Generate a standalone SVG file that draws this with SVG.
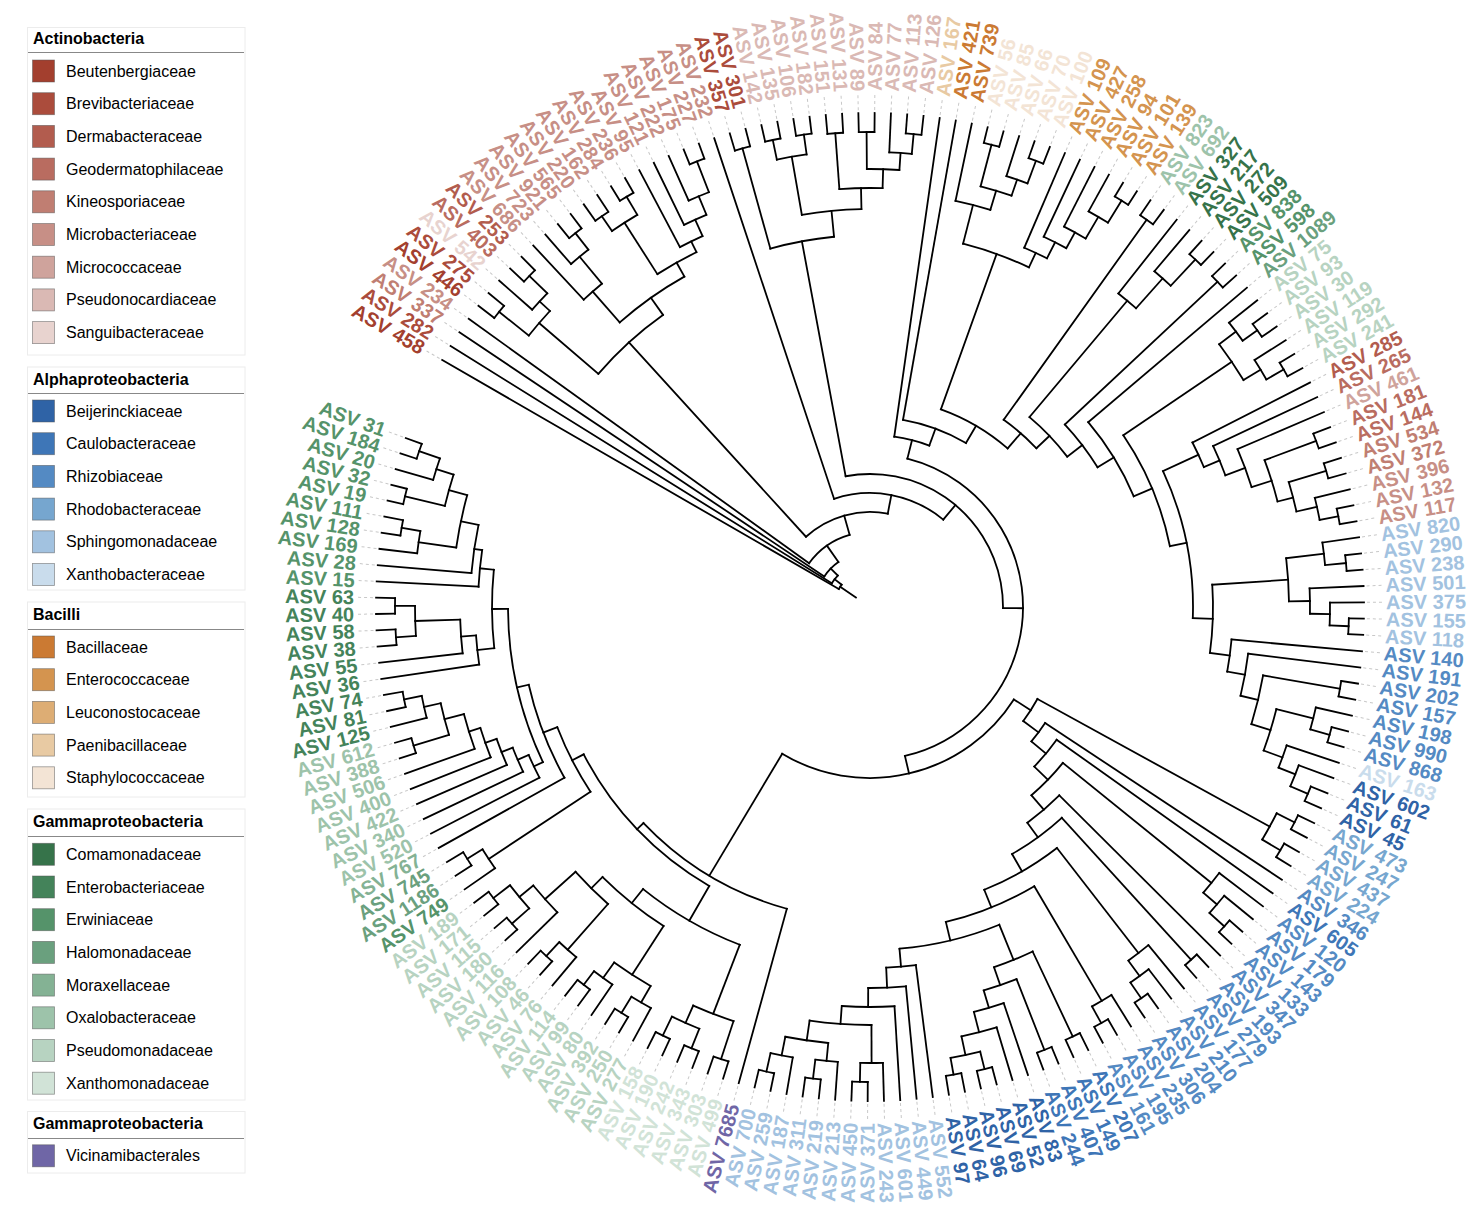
<svg xmlns="http://www.w3.org/2000/svg" width="1478" height="1212" viewBox="0 0 1478 1212">
<style>
.t text{font:bold 20px "Liberation Sans",Arial,sans-serif;dominant-baseline:central}
.L{text-anchor:end}
.lg text{font:16px "Liberation Sans",Arial,sans-serif}
.lg .h{font-weight:bold}
.lg rect.s{stroke:#555;stroke-opacity:.6;stroke-width:.8}
.a1{fill:#A33F2E}.a2{fill:#AB4C3C}.a3{fill:#B25C4E}.a4{fill:#B96C60}.a5{fill:#C07E72}.a6{fill:#C78F86}.a7{fill:#CFA39C}.a8{fill:#DAB9B4}.a9{fill:#E8D3CF}
.b1{fill:#2F63A6}.b2{fill:#3E76B7}.b3{fill:#548AC3}.b4{fill:#76A6CF}.b5{fill:#A2C2E0}.b6{fill:#C9DCEC}
.c1{fill:#CB7A33}.c2{fill:#D4944F}.c3{fill:#DDAD74}.c4{fill:#E8CAA3}.c5{fill:#F3E4D5}
.g1{fill:#36734A}.g2{fill:#44835A}.g3{fill:#55936A}.g4{fill:#6AA07E}.g5{fill:#84B294}.g6{fill:#9DC3AA}.g7{fill:#B7D3C1}.g8{fill:#D1E3D7}.v{fill:#6F66A6}
</style>
<rect width="1478" height="1212" fill="#fff"/>
<g class="lg">
<g id="legend-actinobacteria">
<rect x="27.5" y="27.5" width="217.5" height="327.5" fill="#fff" stroke="#ececec"/>
<text class="h" x="33" y="44">Actinobacteria</text><path d="M28 52.5H244" stroke="#888"/>
<rect class="s a1" x="32.5" y="60" width="22" height="22"/><text x="66" y="76.5">Beutenbergiaceae</text>
<rect class="s a2" x="32.5" y="92.7" width="22" height="22"/><text x="66" y="109.2">Brevibacteriaceae</text>
<rect class="s a3" x="32.5" y="125.4" width="22" height="22"/><text x="66" y="141.9">Dermabacteraceae</text>
<rect class="s a4" x="32.5" y="158.1" width="22" height="22"/><text x="66" y="174.6">Geodermatophilaceae</text>
<rect class="s a5" x="32.5" y="190.8" width="22" height="22"/><text x="66" y="207.3">Kineosporiaceae</text>
<rect class="s a6" x="32.5" y="223.5" width="22" height="22"/><text x="66" y="240">Microbacteriaceae</text>
<rect class="s a7" x="32.5" y="256.2" width="22" height="22"/><text x="66" y="272.7">Micrococcaceae</text>
<rect class="s a8" x="32.5" y="288.9" width="22" height="22"/><text x="66" y="305.4">Pseudonocardiaceae</text>
<rect class="s a9" x="32.5" y="321.6" width="22" height="22"/><text x="66" y="338.1">Sanguibacteraceae</text>
</g>
<g id="legend-alphaproteobacteria">
<rect x="27.5" y="367" width="217.5" height="223" fill="#fff" stroke="#ececec"/>
<text class="h" x="33" y="384.5">Alphaproteobacteria</text><path d="M28 393.5H244" stroke="#888"/>
<rect class="s b1" x="32.5" y="400" width="22" height="22"/><text x="66" y="416.5">Beijerinckiaceae</text>
<rect class="s b2" x="32.5" y="432.7" width="22" height="22"/><text x="66" y="449.2">Caulobacteraceae</text>
<rect class="s b3" x="32.5" y="465.4" width="22" height="22"/><text x="66" y="481.9">Rhizobiaceae</text>
<rect class="s b4" x="32.5" y="498.1" width="22" height="22"/><text x="66" y="514.6">Rhodobacteraceae</text>
<rect class="s b5" x="32.5" y="530.8" width="22" height="22"/><text x="66" y="547.3">Sphingomonadaceae</text>
<rect class="s b6" x="32.5" y="563.5" width="22" height="22"/><text x="66" y="580">Xanthobacteraceae</text>
</g>
<g id="legend-bacilli">
<rect x="27.5" y="602" width="217.5" height="195" fill="#fff" stroke="#ececec"/>
<text class="h" x="33" y="620">Bacilli</text><path d="M28 629.5H244" stroke="#888"/>
<rect class="s c1" x="32.5" y="636" width="22" height="22"/><text x="66" y="652.5">Bacillaceae</text>
<rect class="s c2" x="32.5" y="668.7" width="22" height="22"/><text x="66" y="685.2">Enterococcaceae</text>
<rect class="s c3" x="32.5" y="701.4" width="22" height="22"/><text x="66" y="717.9">Leuconostocaceae</text>
<rect class="s c4" x="32.5" y="734.1" width="22" height="22"/><text x="66" y="750.6">Paenibacillaceae</text>
<rect class="s c5" x="32.5" y="766.8" width="22" height="22"/><text x="66" y="783.3">Staphylococcaceae</text>
</g>
<g id="legend-gammaproteobacteria">
<rect x="27.5" y="809" width="217.5" height="291" fill="#fff" stroke="#ececec"/>
<text class="h" x="33" y="826.5">Gammaproteobacteria</text><path d="M28 836.5H244" stroke="#888"/>
<rect class="s g1" x="32.5" y="843.3" width="22" height="22"/><text x="66" y="859.8">Comamonadaceae</text>
<rect class="s g2" x="32.5" y="876" width="22" height="22"/><text x="66" y="892.5">Enterobacteriaceae</text>
<rect class="s g3" x="32.5" y="908.7" width="22" height="22"/><text x="66" y="925.2">Erwiniaceae</text>
<rect class="s g4" x="32.5" y="941.4" width="22" height="22"/><text x="66" y="957.9">Halomonadaceae</text>
<rect class="s g5" x="32.5" y="974.1" width="22" height="22"/><text x="66" y="990.6">Moraxellaceae</text>
<rect class="s g6" x="32.5" y="1006.8" width="22" height="22"/><text x="66" y="1023.3">Oxalobacteraceae</text>
<rect class="s g7" x="32.5" y="1039.5" width="22" height="22"/><text x="66" y="1056">Pseudomonadaceae</text>
<rect class="s g8" x="32.5" y="1072.2" width="22" height="22"/><text x="66" y="1088.7">Xanthomonadaceae</text>
</g>
<g id="legend-gammaproteobacteria-2">
<rect x="27.5" y="1111.5" width="217.5" height="61.5" fill="#fff" stroke="#ececec"/>
<text class="h" x="33" y="1129">Gammaproteobacteria</text><path d="M28 1138.5H244" stroke="#888"/>
<rect class="s v" x="32.5" y="1144.8" width="22" height="22"/><text x="66" y="1161.3">Vicinamibacterales</text>
</g>
</g>
<g id="connectors" transform="translate(870 607)" fill="none" stroke="#000" stroke-width="1.8" stroke-linecap="square">
<path d="M17 0H36" transform="rotate(214.07)"/>
<circle r="36" pathLength="360" stroke-dasharray="8.13 400" transform="rotate(210)"/>
<path d="M36 0H494" transform="rotate(210)"/><path d="M36 0H45" transform="rotate(218.13)"/>
<circle r="45" pathLength="360" stroke-dasharray="12.48 400" transform="rotate(211.89)"/>
<path d="M45 0H494" transform="rotate(211.89)"/><path d="M45 0H55" transform="rotate(224.37)"/>
<circle r="55" pathLength="360" stroke-dasharray="21.17 400" transform="rotate(213.78)"/>
<path d="M55 0H494" transform="rotate(213.78)"/><path d="M55 0H75" transform="rotate(234.95)"/>
<circle r="75" pathLength="360" stroke-dasharray="38.55 400" transform="rotate(215.68)"/>
<path d="M75 0H494" transform="rotate(215.68)"/><path d="M75 0H95" transform="rotate(254.23)"/>
<circle r="95" pathLength="360" stroke-dasharray="53.13 400" transform="rotate(227.66)"/>
<path d="M95 0H358" transform="rotate(227.66)"/><path d="M95 0H114" transform="rotate(280.79)"/>
<circle r="114" pathLength="360" stroke-dasharray="58.34 400" transform="rotate(251.62)"/>
<path d="M114 0H494" transform="rotate(251.62)"/><path d="M114 0H133" transform="rotate(309.96)"/>
<circle r="133" pathLength="360" stroke-dasharray="101.02 400" transform="rotate(259.45)"/>
<path d="M133 0H372" transform="rotate(259.45)"/><path d="M133 0H153" transform="rotate(360.47)"/>
<circle r="153" pathLength="360" stroke-dasharray="152.66 400" transform="rotate(284.14)"/>
<path d="M153 0H172" transform="rotate(284.14)"/><path d="M153 0H171" transform="rotate(436.8)"/>
<circle r="358" pathLength="360" stroke-dasharray="14.04 400" transform="rotate(220.64)"/>
<path d="M358 0H436" transform="rotate(220.64)"/><path d="M358 0H379" transform="rotate(234.68)"/>
<circle r="436" pathLength="360" stroke-dasharray="4.26 400" transform="rotate(218.51)"/>
<path d="M436 0H474" transform="rotate(218.51)"/><path d="M436 0H450" transform="rotate(222.77)"/>
<circle r="474" pathLength="360" stroke-dasharray="1.89 400" transform="rotate(217.57)"/>
<path d="M474 0H494" transform="rotate(217.57)"/><path d="M474 0H494" transform="rotate(219.46)"/>
<circle r="450" pathLength="360" stroke-dasharray="2.84 400" transform="rotate(221.35)"/>
<path d="M450 0H494" transform="rotate(221.35)"/><path d="M450 0H475" transform="rotate(224.19)"/>
<circle r="475" pathLength="360" stroke-dasharray="1.9 400" transform="rotate(223.24)"/>
<path d="M475 0H494" transform="rotate(223.24)"/><path d="M475 0H494" transform="rotate(225.14)"/>
<circle r="379" pathLength="360" stroke-dasharray="12 400" transform="rotate(228.68)"/>
<path d="M379 0H420" transform="rotate(228.68)"/><path d="M379 0H395" transform="rotate(240.68)"/>
<circle r="420" pathLength="360" stroke-dasharray="3.31 400" transform="rotate(227.03)"/>
<path d="M420 0H494" transform="rotate(227.03)"/><path d="M420 0H455" transform="rotate(230.34)"/>
<circle r="455" pathLength="360" stroke-dasharray="2.84 400" transform="rotate(228.92)"/>
<path d="M455 0H494" transform="rotate(228.92)"/><path d="M455 0H476" transform="rotate(231.76)"/>
<circle r="476" pathLength="360" stroke-dasharray="1.89 400" transform="rotate(230.81)"/>
<path d="M476 0H494" transform="rotate(230.81)"/><path d="M476 0H494" transform="rotate(232.7)"/>
<circle r="395" pathLength="360" stroke-dasharray="6.51 400" transform="rotate(237.43)"/>
<path d="M395 0H456" transform="rotate(237.43)"/><path d="M395 0H407" transform="rotate(243.94)"/>
<circle r="456" pathLength="360" stroke-dasharray="3.78 400" transform="rotate(235.54)"/>
<path d="M456 0H474" transform="rotate(235.54)"/><path d="M456 0H477" transform="rotate(239.32)"/>
<circle r="474" pathLength="360" stroke-dasharray="1.9 400" transform="rotate(234.59)"/>
<path d="M474 0H494" transform="rotate(234.59)"/><path d="M474 0H494" transform="rotate(236.49)"/>
<circle r="477" pathLength="360" stroke-dasharray="1.89 400" transform="rotate(238.38)"/>
<path d="M477 0H494" transform="rotate(238.38)"/><path d="M477 0H494" transform="rotate(240.27)"/>
<circle r="407" pathLength="360" stroke-dasharray="3.55 400" transform="rotate(242.16)"/>
<path d="M407 0H494" transform="rotate(242.16)"/><path d="M407 0H425" transform="rotate(245.71)"/>
<circle r="425" pathLength="360" stroke-dasharray="3.31 400" transform="rotate(244.05)"/>
<path d="M425 0H494" transform="rotate(244.05)"/><path d="M425 0H445" transform="rotate(247.36)"/>
<circle r="445" pathLength="360" stroke-dasharray="2.83 400" transform="rotate(245.95)"/>
<path d="M445 0H494" transform="rotate(245.95)"/><path d="M445 0H478" transform="rotate(248.78)"/>
<circle r="478" pathLength="360" stroke-dasharray="1.89 400" transform="rotate(247.84)"/>
<path d="M478 0H494" transform="rotate(247.84)"/><path d="M478 0H494" transform="rotate(249.73)"/>
<circle r="372" pathLength="360" stroke-dasharray="9.99 400" transform="rotate(254.46)"/>
<path d="M372 0H476" transform="rotate(254.46)"/><path d="M372 0H398" transform="rotate(264.45)"/>
<circle r="476" pathLength="360" stroke-dasharray="1.9 400" transform="rotate(253.51)"/>
<path d="M476 0H494" transform="rotate(253.51)"/><path d="M476 0H494" transform="rotate(255.41)"/>
<circle r="398" pathLength="360" stroke-dasharray="8.63 400" transform="rotate(260.14)"/>
<path d="M398 0H457" transform="rotate(260.14)"/><path d="M398 0H419" transform="rotate(268.77)"/>
<circle r="457" pathLength="360" stroke-dasharray="3.79 400" transform="rotate(258.24)"/>
<path d="M457 0H477" transform="rotate(258.24)"/><path d="M457 0H477" transform="rotate(262.03)"/>
<circle r="477" pathLength="360" stroke-dasharray="1.89 400" transform="rotate(257.3)"/>
<path d="M477 0H494" transform="rotate(257.3)"/><path d="M477 0H494" transform="rotate(259.19)"/>
<circle r="477" pathLength="360" stroke-dasharray="1.89 400" transform="rotate(261.08)"/>
<path d="M477 0H494" transform="rotate(261.08)"/><path d="M477 0H494" transform="rotate(262.97)"/>
<circle r="419" pathLength="360" stroke-dasharray="5.91 400" transform="rotate(265.81)"/>
<path d="M419 0H475" transform="rotate(265.81)"/><path d="M419 0H438" transform="rotate(271.72)"/>
<circle r="475" pathLength="360" stroke-dasharray="1.9 400" transform="rotate(264.86)"/>
<path d="M475 0H494" transform="rotate(264.86)"/><path d="M475 0H494" transform="rotate(266.76)"/>
<circle r="438" pathLength="360" stroke-dasharray="4.26 400" transform="rotate(269.59)"/>
<path d="M438 0H475" transform="rotate(269.59)"/><path d="M438 0H455" transform="rotate(273.85)"/>
<circle r="475" pathLength="360" stroke-dasharray="1.89 400" transform="rotate(268.65)"/>
<path d="M475 0H494" transform="rotate(268.65)"/><path d="M475 0H494" transform="rotate(270.54)"/>
<circle r="455" pathLength="360" stroke-dasharray="2.84 400" transform="rotate(272.43)"/>
<path d="M455 0H494" transform="rotate(272.43)"/><path d="M455 0H475" transform="rotate(275.27)"/>
<circle r="475" pathLength="360" stroke-dasharray="1.9 400" transform="rotate(274.32)"/>
<path d="M475 0H494" transform="rotate(274.32)"/><path d="M475 0H494" transform="rotate(276.22)"/>
<circle r="172" pathLength="360" stroke-dasharray="12.06 400" transform="rotate(278.11)"/>
<path d="M172 0H494" transform="rotate(278.11)"/><path d="M172 0H190" transform="rotate(290.17)"/>
<circle r="190" pathLength="360" stroke-dasharray="20.34 400" transform="rotate(280)"/>
<path d="M190 0H494" transform="rotate(280)"/><path d="M190 0H210" transform="rotate(300.34)"/>
<circle r="210" pathLength="360" stroke-dasharray="21.22 400" transform="rotate(289.73)"/>
<path d="M210 0H375" transform="rotate(289.73)"/><path d="M210 0H230" transform="rotate(310.95)"/>
<circle r="375" pathLength="360" stroke-dasharray="10.71 400" transform="rotate(284.37)"/>
<path d="M375 0H415" transform="rotate(284.37)"/><path d="M375 0H391" transform="rotate(295.08)"/>
<circle r="415" pathLength="360" stroke-dasharray="4.97 400" transform="rotate(281.89)"/>
<path d="M415 0H494" transform="rotate(281.89)"/><path d="M415 0H435" transform="rotate(286.86)"/>
<circle r="435" pathLength="360" stroke-dasharray="4.26 400" transform="rotate(284.73)"/>
<path d="M435 0H478" transform="rotate(284.73)"/><path d="M435 0H452" transform="rotate(288.99)"/>
<circle r="478" pathLength="360" stroke-dasharray="1.9 400" transform="rotate(283.78)"/>
<path d="M478 0H494" transform="rotate(283.78)"/><path d="M478 0H494" transform="rotate(285.68)"/>
<circle r="452" pathLength="360" stroke-dasharray="2.83 400" transform="rotate(287.57)"/>
<path d="M452 0H494" transform="rotate(287.57)"/><path d="M452 0H476" transform="rotate(290.4)"/>
<circle r="476" pathLength="360" stroke-dasharray="1.89 400" transform="rotate(289.46)"/>
<path d="M476 0H494" transform="rotate(289.46)"/><path d="M476 0H494" transform="rotate(291.35)"/>
<circle r="391" pathLength="360" stroke-dasharray="3.67 400" transform="rotate(293.24)"/>
<path d="M391 0H494" transform="rotate(293.24)"/><path d="M391 0H409" transform="rotate(296.91)"/>
<circle r="409" pathLength="360" stroke-dasharray="3.54 400" transform="rotate(295.14)"/>
<path d="M409 0H494" transform="rotate(295.14)"/><path d="M409 0H427" transform="rotate(298.68)"/>
<circle r="427" pathLength="360" stroke-dasharray="3.31 400" transform="rotate(297.03)"/>
<path d="M427 0H494" transform="rotate(297.03)"/><path d="M427 0H452" transform="rotate(300.34)"/>
<circle r="452" pathLength="360" stroke-dasharray="2.84 400" transform="rotate(298.92)"/>
<path d="M452 0H494" transform="rotate(298.92)"/><path d="M452 0H478" transform="rotate(301.76)"/>
<circle r="478" pathLength="360" stroke-dasharray="1.89 400" transform="rotate(300.81)"/>
<path d="M478 0H494" transform="rotate(300.81)"/><path d="M478 0H494" transform="rotate(302.7)"/>
<circle r="230" pathLength="360" stroke-dasharray="10.82 400" transform="rotate(305.54)"/>
<path d="M230 0H476" transform="rotate(305.54)"/><path d="M230 0H248" transform="rotate(316.36)"/>
<circle r="476" pathLength="360" stroke-dasharray="1.9 400" transform="rotate(304.59)"/>
<path d="M476 0H494" transform="rotate(304.59)"/><path d="M476 0H494" transform="rotate(306.49)"/>
<circle r="248" pathLength="360" stroke-dasharray="12.65 400" transform="rotate(310.03)"/>
<path d="M248 0H400" transform="rotate(310.03)"/><path d="M248 0H267" transform="rotate(322.68)"/>
<circle r="400" pathLength="360" stroke-dasharray="3.31 400" transform="rotate(308.38)"/>
<path d="M400 0H494" transform="rotate(308.38)"/><path d="M400 0H440" transform="rotate(311.69)"/>
<circle r="440" pathLength="360" stroke-dasharray="2.84 400" transform="rotate(310.27)"/>
<path d="M440 0H494" transform="rotate(310.27)"/><path d="M440 0H476" transform="rotate(313.11)"/>
<circle r="476" pathLength="360" stroke-dasharray="1.89 400" transform="rotate(312.16)"/>
<path d="M476 0H494" transform="rotate(312.16)"/><path d="M476 0H494" transform="rotate(314.05)"/>
<circle r="267" pathLength="360" stroke-dasharray="11.58 400" transform="rotate(316.89)"/>
<path d="M267 0H476" transform="rotate(316.89)"/><path d="M267 0H286" transform="rotate(328.47)"/>
<circle r="476" pathLength="360" stroke-dasharray="1.89 400" transform="rotate(315.95)"/>
<path d="M476 0H494" transform="rotate(315.95)"/><path d="M476 0H494" transform="rotate(317.84)"/>
<circle r="286" pathLength="360" stroke-dasharray="17.49 400" transform="rotate(319.73)"/>
<path d="M286 0H494" transform="rotate(319.73)"/><path d="M286 0H306" transform="rotate(337.22)"/>
<circle r="306" pathLength="360" stroke-dasharray="22.67 400" transform="rotate(325.88)"/>
<path d="M306 0H437" transform="rotate(325.88)"/><path d="M306 0H323" transform="rotate(348.55)"/>
<circle r="437" pathLength="360" stroke-dasharray="5.68 400" transform="rotate(323.04)"/>
<path d="M437 0H458" transform="rotate(323.04)"/><path d="M437 0H457" transform="rotate(328.72)"/>
<circle r="458" pathLength="360" stroke-dasharray="2.84 400" transform="rotate(321.62)"/>
<path d="M458 0H494" transform="rotate(321.62)"/><path d="M458 0H476" transform="rotate(324.46)"/>
<circle r="476" pathLength="360" stroke-dasharray="1.9 400" transform="rotate(323.51)"/>
<path d="M476 0H494" transform="rotate(323.51)"/><path d="M476 0H494" transform="rotate(325.41)"/>
<circle r="457" pathLength="360" stroke-dasharray="2.84 400" transform="rotate(327.3)"/>
<path d="M457 0H494" transform="rotate(327.3)"/><path d="M457 0H477" transform="rotate(330.14)"/>
<circle r="477" pathLength="360" stroke-dasharray="1.89 400" transform="rotate(329.19)"/>
<path d="M477 0H494" transform="rotate(329.19)"/><path d="M477 0H494" transform="rotate(331.08)"/>
<circle r="323" pathLength="360" stroke-dasharray="26.86 400" transform="rotate(335.12)"/>
<path d="M323 0H362" transform="rotate(335.12)"/><path d="M323 0H343" transform="rotate(361.98)"/>
<circle r="362" pathLength="360" stroke-dasharray="4.29 400" transform="rotate(332.97)"/>
<path d="M362 0H494" transform="rotate(332.97)"/><path d="M362 0H379" transform="rotate(337.26)"/>
<circle r="379" pathLength="360" stroke-dasharray="4.8 400" transform="rotate(334.86)"/>
<path d="M379 0H494" transform="rotate(334.86)"/><path d="M379 0H400" transform="rotate(339.66)"/>
<circle r="400" pathLength="360" stroke-dasharray="5.79 400" transform="rotate(336.76)"/>
<path d="M400 0H494" transform="rotate(336.76)"/><path d="M400 0H421" transform="rotate(342.55)"/>
<circle r="421" pathLength="360" stroke-dasharray="5.9 400" transform="rotate(339.59)"/>
<path d="M421 0H476" transform="rotate(339.59)"/><path d="M421 0H437" transform="rotate(345.49)"/>
<circle r="476" pathLength="360" stroke-dasharray="1.89 400" transform="rotate(338.65)"/>
<path d="M476 0H494" transform="rotate(338.65)"/><path d="M476 0H494" transform="rotate(340.54)"/>
<circle r="437" pathLength="360" stroke-dasharray="4 400" transform="rotate(343.38)"/>
<path d="M437 0H476" transform="rotate(343.38)"/><path d="M437 0H458" transform="rotate(347.38)"/>
<circle r="476" pathLength="360" stroke-dasharray="1.89 400" transform="rotate(342.43)"/>
<path d="M476 0H494" transform="rotate(342.43)"/><path d="M476 0H494" transform="rotate(344.32)"/>
<circle r="458" pathLength="360" stroke-dasharray="2.83 400" transform="rotate(346.22)"/>
<path d="M458 0H494" transform="rotate(346.22)"/><path d="M458 0H477" transform="rotate(349.05)"/>
<circle r="477" pathLength="360" stroke-dasharray="1.89 400" transform="rotate(348.11)"/>
<path d="M477 0H494" transform="rotate(348.11)"/><path d="M477 0H494" transform="rotate(350)"/>
<circle r="343" pathLength="360" stroke-dasharray="11.42 400" transform="rotate(356.27)"/>
<path d="M343 0H419" transform="rotate(356.27)"/><path d="M343 0H363" transform="rotate(367.69)"/>
<circle r="419" pathLength="360" stroke-dasharray="5.91 400" transform="rotate(353.31)"/>
<path d="M419 0H457" transform="rotate(353.31)"/><path d="M419 0H440" transform="rotate(359.22)"/>
<circle r="457" pathLength="360" stroke-dasharray="2.84 400" transform="rotate(351.89)"/>
<path d="M457 0H494" transform="rotate(351.89)"/><path d="M457 0H478" transform="rotate(354.73)"/>
<circle r="478" pathLength="360" stroke-dasharray="1.9 400" transform="rotate(353.78)"/>
<path d="M478 0H494" transform="rotate(353.78)"/><path d="M478 0H494" transform="rotate(355.68)"/>
<circle r="440" pathLength="360" stroke-dasharray="3.31 400" transform="rotate(357.57)"/>
<path d="M440 0H494" transform="rotate(357.57)"/><path d="M440 0H460" transform="rotate(360.88)"/>
<circle r="460" pathLength="360" stroke-dasharray="2.84 400" transform="rotate(359.46)"/>
<path d="M460 0H494" transform="rotate(359.46)"/><path d="M460 0H479" transform="rotate(362.3)"/>
<circle r="479" pathLength="360" stroke-dasharray="1.89 400" transform="rotate(361.35)"/>
<path d="M479 0H494" transform="rotate(361.35)"/><path d="M479 0H494" transform="rotate(363.24)"/>
<circle r="363" pathLength="360" stroke-dasharray="5.11 400" transform="rotate(365.14)"/>
<path d="M363 0H494" transform="rotate(365.14)"/><path d="M363 0H381" transform="rotate(370.25)"/>
<circle r="381" pathLength="360" stroke-dasharray="6.44 400" transform="rotate(367.03)"/>
<path d="M381 0H494" transform="rotate(367.03)"/><path d="M381 0H399" transform="rotate(373.47)"/>
<circle r="399" pathLength="360" stroke-dasharray="7.21 400" transform="rotate(369.87)"/>
<path d="M399 0H477" transform="rotate(369.87)"/><path d="M399 0H419" transform="rotate(377.08)"/>
<circle r="477" pathLength="360" stroke-dasharray="1.89 400" transform="rotate(368.92)"/>
<path d="M477 0H494" transform="rotate(368.92)"/><path d="M477 0H494" transform="rotate(370.81)"/>
<circle r="419" pathLength="360" stroke-dasharray="5.92 400" transform="rotate(374.12)"/>
<path d="M419 0H457" transform="rotate(374.12)"/><path d="M419 0H439" transform="rotate(380.04)"/>
<circle r="457" pathLength="360" stroke-dasharray="2.84 400" transform="rotate(372.7)"/>
<path d="M457 0H494" transform="rotate(372.7)"/><path d="M457 0H477" transform="rotate(375.54)"/>
<circle r="477" pathLength="360" stroke-dasharray="1.9 400" transform="rotate(374.59)"/>
<path d="M477 0H494" transform="rotate(374.59)"/><path d="M477 0H494" transform="rotate(376.49)"/>
<circle r="439" pathLength="360" stroke-dasharray="3.09 400" transform="rotate(378.38)"/>
<path d="M439 0H494" transform="rotate(378.38)"/><path d="M439 0H457" transform="rotate(381.47)"/>
<circle r="457" pathLength="360" stroke-dasharray="2.84 400" transform="rotate(380.27)"/>
<path d="M457 0H494" transform="rotate(380.27)"/><path d="M457 0H476" transform="rotate(383.11)"/>
<circle r="476" pathLength="360" stroke-dasharray="1.89 400" transform="rotate(382.16)"/>
<path d="M476 0H494" transform="rotate(382.16)"/><path d="M476 0H494" transform="rotate(384.05)"/>
<circle r="171" pathLength="360" stroke-dasharray="88.16 400" transform="rotate(392.72)"/>
<path d="M171 0H191" transform="rotate(392.72)"/><path d="M171 0H313" transform="rotate(480.88)"/>
<circle r="191" pathLength="360" stroke-dasharray="7.87 400" transform="rotate(388.78)"/>
<path d="M191 0H456" transform="rotate(388.78)"/><path d="M191 0H210" transform="rotate(396.65)"/>
<circle r="456" pathLength="360" stroke-dasharray="3.78 400" transform="rotate(386.89)"/>
<path d="M456 0H476" transform="rotate(386.89)"/><path d="M456 0H477" transform="rotate(390.67)"/>
<circle r="476" pathLength="360" stroke-dasharray="1.89 400" transform="rotate(385.95)"/>
<path d="M476 0H494" transform="rotate(385.95)"/><path d="M476 0H494" transform="rotate(387.84)"/>
<circle r="477" pathLength="360" stroke-dasharray="1.89 400" transform="rotate(389.73)"/>
<path d="M477 0H494" transform="rotate(389.73)"/><path d="M477 0H494" transform="rotate(391.62)"/>
<circle r="210" pathLength="360" stroke-dasharray="6.28 400" transform="rotate(393.51)"/>
<path d="M210 0H494" transform="rotate(393.51)"/><path d="M210 0H229" transform="rotate(399.79)"/>
<circle r="229" pathLength="360" stroke-dasharray="8.76 400" transform="rotate(395.41)"/>
<path d="M229 0H494" transform="rotate(395.41)"/><path d="M229 0H248" transform="rotate(404.17)"/>
<circle r="248" pathLength="360" stroke-dasharray="10.43 400" transform="rotate(398.95)"/>
<path d="M248 0H439" transform="rotate(398.95)"/><path d="M248 0H267" transform="rotate(409.38)"/>
<circle r="439" pathLength="360" stroke-dasharray="3.31 400" transform="rotate(397.3)"/>
<path d="M439 0H494" transform="rotate(397.3)"/><path d="M439 0H457" transform="rotate(400.61)"/>
<circle r="457" pathLength="360" stroke-dasharray="2.84 400" transform="rotate(399.19)"/>
<path d="M457 0H494" transform="rotate(399.19)"/><path d="M457 0H477" transform="rotate(402.03)"/>
<circle r="477" pathLength="360" stroke-dasharray="1.89 400" transform="rotate(401.08)"/>
<path d="M477 0H494" transform="rotate(401.08)"/><path d="M477 0H494" transform="rotate(402.97)"/>
<circle r="267" pathLength="360" stroke-dasharray="9.04 400" transform="rotate(404.86)"/>
<path d="M267 0H494" transform="rotate(404.86)"/><path d="M267 0H285" transform="rotate(413.9)"/>
<circle r="285" pathLength="360" stroke-dasharray="12.4 400" transform="rotate(407.7)"/>
<path d="M285 0H477" transform="rotate(407.7)"/><path d="M285 0H305" transform="rotate(420.1)"/>
<circle r="477" pathLength="360" stroke-dasharray="1.89 400" transform="rotate(406.76)"/>
<path d="M477 0H494" transform="rotate(406.76)"/><path d="M477 0H494" transform="rotate(408.65)"/>
<circle r="305" pathLength="360" stroke-dasharray="15.8 400" transform="rotate(412.2)"/>
<path d="M305 0H438" transform="rotate(412.2)"/><path d="M305 0H324" transform="rotate(428)"/>
<circle r="438" pathLength="360" stroke-dasharray="3.31 400" transform="rotate(410.54)"/>
<path d="M438 0H494" transform="rotate(410.54)"/><path d="M438 0H457" transform="rotate(413.85)"/>
<circle r="457" pathLength="360" stroke-dasharray="2.84 400" transform="rotate(412.43)"/>
<path d="M457 0H494" transform="rotate(412.43)"/><path d="M457 0H476" transform="rotate(415.27)"/>
<circle r="476" pathLength="360" stroke-dasharray="1.9 400" transform="rotate(414.32)"/>
<path d="M476 0H494" transform="rotate(414.32)"/><path d="M476 0H494" transform="rotate(416.22)"/>
<circle r="324" pathLength="360" stroke-dasharray="16.93 400" transform="rotate(419.53)"/>
<path d="M324 0H457" transform="rotate(419.53)"/><path d="M324 0H343" transform="rotate(436.46)"/>
<circle r="457" pathLength="360" stroke-dasharray="2.83 400" transform="rotate(418.11)"/>
<path d="M457 0H494" transform="rotate(418.11)"/><path d="M457 0H476" transform="rotate(420.94)"/>
<circle r="476" pathLength="360" stroke-dasharray="1.89 400" transform="rotate(420)"/>
<path d="M476 0H494" transform="rotate(420)"/><path d="M476 0H494" transform="rotate(421.89)"/>
<circle r="343" pathLength="360" stroke-dasharray="17.21 400" transform="rotate(427.86)"/>
<path d="M343 0H381" transform="rotate(427.86)"/><path d="M343 0H361" transform="rotate(445.07)"/>
<circle r="381" pathLength="360" stroke-dasharray="6.27 400" transform="rotate(424.73)"/>
<path d="M381 0H475" transform="rotate(424.73)"/><path d="M381 0H400" transform="rotate(431)"/>
<circle r="475" pathLength="360" stroke-dasharray="1.9 400" transform="rotate(423.78)"/>
<path d="M475 0H494" transform="rotate(423.78)"/><path d="M475 0H494" transform="rotate(425.68)"/>
<circle r="400" pathLength="360" stroke-dasharray="4.97 400" transform="rotate(428.51)"/>
<path d="M400 0H476" transform="rotate(428.51)"/><path d="M400 0H418" transform="rotate(433.48)"/>
<circle r="476" pathLength="360" stroke-dasharray="1.89 400" transform="rotate(427.57)"/>
<path d="M476 0H494" transform="rotate(427.57)"/><path d="M476 0H494" transform="rotate(429.46)"/>
<circle r="418" pathLength="360" stroke-dasharray="4.26 400" transform="rotate(431.35)"/>
<path d="M418 0H494" transform="rotate(431.35)"/><path d="M418 0H439" transform="rotate(435.61)"/>
<circle r="439" pathLength="360" stroke-dasharray="4.73 400" transform="rotate(433.24)"/>
<path d="M439 0H494" transform="rotate(433.24)"/><path d="M439 0H458" transform="rotate(437.97)"/>
<circle r="458" pathLength="360" stroke-dasharray="3.79 400" transform="rotate(436.08)"/>
<path d="M458 0H476" transform="rotate(436.08)"/><path d="M458 0H475" transform="rotate(439.87)"/>
<circle r="476" pathLength="360" stroke-dasharray="1.89 400" transform="rotate(435.14)"/>
<path d="M476 0H494" transform="rotate(435.14)"/><path d="M476 0H494" transform="rotate(437.03)"/>
<circle r="475" pathLength="360" stroke-dasharray="1.89 400" transform="rotate(438.92)"/>
<path d="M475 0H494" transform="rotate(438.92)"/><path d="M475 0H494" transform="rotate(440.81)"/>
<circle r="361" pathLength="360" stroke-dasharray="4.73 400" transform="rotate(442.7)"/>
<path d="M361 0H494" transform="rotate(442.7)"/><path d="M361 0H381" transform="rotate(447.43)"/>
<circle r="381" pathLength="360" stroke-dasharray="5.68 400" transform="rotate(444.59)"/>
<path d="M381 0H494" transform="rotate(444.59)"/><path d="M381 0H400" transform="rotate(450.27)"/>
<circle r="400" pathLength="360" stroke-dasharray="7.56 400" transform="rotate(446.49)"/>
<path d="M400 0H494" transform="rotate(446.49)"/><path d="M400 0H418" transform="rotate(454.05)"/>
<circle r="418" pathLength="360" stroke-dasharray="8.51 400" transform="rotate(449.8)"/>
<path d="M418 0H456" transform="rotate(449.8)"/><path d="M418 0H438" transform="rotate(458.31)"/>
<circle r="456" pathLength="360" stroke-dasharray="2.84 400" transform="rotate(448.38)"/>
<path d="M456 0H494" transform="rotate(448.38)"/><path d="M456 0H475" transform="rotate(451.22)"/>
<circle r="475" pathLength="360" stroke-dasharray="1.89 400" transform="rotate(450.27)"/>
<path d="M475 0H494" transform="rotate(450.27)"/><path d="M475 0H494" transform="rotate(452.16)"/>
<circle r="438" pathLength="360" stroke-dasharray="5.68 400" transform="rotate(455.47)"/>
<path d="M438 0H456" transform="rotate(455.47)"/><path d="M438 0H457" transform="rotate(461.15)"/>
<circle r="456" pathLength="360" stroke-dasharray="2.84 400" transform="rotate(454.05)"/>
<path d="M456 0H494" transform="rotate(454.05)"/><path d="M456 0H475" transform="rotate(456.89)"/>
<circle r="475" pathLength="360" stroke-dasharray="1.89 400" transform="rotate(455.95)"/>
<path d="M475 0H494" transform="rotate(455.95)"/><path d="M475 0H494" transform="rotate(457.84)"/>
<circle r="457" pathLength="360" stroke-dasharray="2.84 400" transform="rotate(459.73)"/>
<path d="M457 0H494" transform="rotate(459.73)"/><path d="M457 0H476" transform="rotate(462.57)"/>
<circle r="476" pathLength="360" stroke-dasharray="1.89 400" transform="rotate(461.62)"/>
<path d="M476 0H494" transform="rotate(461.62)"/><path d="M476 0H494" transform="rotate(463.51)"/>
<circle r="313" pathLength="360" stroke-dasharray="30.95 400" transform="rotate(465.41)"/>
<path d="M313 0H494" transform="rotate(465.41)"/><path d="M313 0H322" transform="rotate(496.36)"/>
<circle r="322" pathLength="360" stroke-dasharray="32.82 400" transform="rotate(479.95)"/>
<path d="M322 0H362" transform="rotate(479.95)"/><path d="M322 0H335" transform="rotate(512.77)"/>
<circle r="362" pathLength="360" stroke-dasharray="17.74 400" transform="rotate(471.08)"/>
<path d="M362 0H436" transform="rotate(471.08)"/><path d="M362 0H380" transform="rotate(488.82)"/>
<circle r="436" pathLength="360" stroke-dasharray="5.68 400" transform="rotate(468.24)"/>
<path d="M436 0H476" transform="rotate(468.24)"/><path d="M436 0H455" transform="rotate(473.92)"/>
<circle r="476" pathLength="360" stroke-dasharray="1.89 400" transform="rotate(467.3)"/>
<path d="M476 0H494" transform="rotate(467.3)"/><path d="M476 0H494" transform="rotate(469.19)"/>
<circle r="455" pathLength="360" stroke-dasharray="3.78 400" transform="rotate(472.03)"/>
<path d="M455 0H476" transform="rotate(472.03)"/><path d="M455 0H476" transform="rotate(475.81)"/>
<circle r="476" pathLength="360" stroke-dasharray="1.89 400" transform="rotate(471.08)"/>
<path d="M476 0H494" transform="rotate(471.08)"/><path d="M476 0H494" transform="rotate(472.97)"/>
<circle r="476" pathLength="360" stroke-dasharray="1.9 400" transform="rotate(474.86)"/>
<path d="M476 0H494" transform="rotate(474.86)"/><path d="M476 0H494" transform="rotate(476.76)"/>
<circle r="380" pathLength="360" stroke-dasharray="11.83 400" transform="rotate(482.9)"/>
<path d="M380 0H438" transform="rotate(482.9)"/><path d="M380 0H396" transform="rotate(494.73)"/>
<circle r="438" pathLength="360" stroke-dasharray="5.68 400" transform="rotate(480.06)"/>
<path d="M438 0H457" transform="rotate(480.06)"/><path d="M438 0H457" transform="rotate(485.74)"/>
<circle r="457" pathLength="360" stroke-dasharray="2.83 400" transform="rotate(478.65)"/>
<path d="M457 0H494" transform="rotate(478.65)"/><path d="M457 0H476" transform="rotate(481.48)"/>
<circle r="476" pathLength="360" stroke-dasharray="1.89 400" transform="rotate(480.54)"/>
<path d="M476 0H494" transform="rotate(480.54)"/><path d="M476 0H494" transform="rotate(482.43)"/>
<circle r="457" pathLength="360" stroke-dasharray="2.84 400" transform="rotate(484.32)"/>
<path d="M457 0H494" transform="rotate(484.32)"/><path d="M457 0H474" transform="rotate(487.16)"/>
<circle r="474" pathLength="360" stroke-dasharray="1.89 400" transform="rotate(486.22)"/>
<path d="M474 0H494" transform="rotate(486.22)"/><path d="M474 0H494" transform="rotate(488.11)"/>
<circle r="396" pathLength="360" stroke-dasharray="6.62 400" transform="rotate(491.42)"/>
<path d="M396 0H457" transform="rotate(491.42)"/><path d="M396 0H437" transform="rotate(498.04)"/>
<circle r="457" pathLength="360" stroke-dasharray="2.84 400" transform="rotate(490)"/>
<path d="M457 0H494" transform="rotate(490)"/><path d="M457 0H476" transform="rotate(492.84)"/>
<circle r="476" pathLength="360" stroke-dasharray="1.89 400" transform="rotate(491.89)"/>
<path d="M476 0H494" transform="rotate(491.89)"/><path d="M476 0H494" transform="rotate(493.78)"/>
<circle r="437" pathLength="360" stroke-dasharray="4.73 400" transform="rotate(495.68)"/>
<path d="M437 0H494" transform="rotate(495.68)"/><path d="M437 0H455" transform="rotate(500.41)"/>
<circle r="455" pathLength="360" stroke-dasharray="3.79 400" transform="rotate(498.51)"/>
<path d="M455 0H478" transform="rotate(498.51)"/><path d="M455 0H476" transform="rotate(502.3)"/>
<circle r="478" pathLength="360" stroke-dasharray="1.89 400" transform="rotate(497.57)"/>
<path d="M478 0H494" transform="rotate(497.57)"/><path d="M478 0H494" transform="rotate(499.46)"/>
<circle r="476" pathLength="360" stroke-dasharray="1.89 400" transform="rotate(501.35)"/>
<path d="M476 0H494" transform="rotate(501.35)"/><path d="M476 0H494" transform="rotate(503.24)"/>
<circle r="335" pathLength="360" stroke-dasharray="12.43 400" transform="rotate(506.55)"/>
<path d="M335 0H457" transform="rotate(506.55)"/><path d="M335 0H350" transform="rotate(518.98)"/>
<circle r="457" pathLength="360" stroke-dasharray="2.84 400" transform="rotate(505.14)"/>
<path d="M457 0H494" transform="rotate(505.14)"/><path d="M457 0H475" transform="rotate(507.98)"/>
<circle r="475" pathLength="360" stroke-dasharray="1.89 400" transform="rotate(507.03)"/>
<path d="M475 0H494" transform="rotate(507.03)"/><path d="M475 0H494" transform="rotate(508.92)"/>
<circle r="350" pathLength="360" stroke-dasharray="16.36 400" transform="rotate(510.81)"/>
<path d="M350 0H494" transform="rotate(510.81)"/><path d="M350 0H362" transform="rotate(527.17)"/>
<circle r="362" pathLength="360" stroke-dasharray="25.07 400" transform="rotate(514.63)"/>
<path d="M362 0H372" transform="rotate(514.63)"/><path d="M362 0H378" transform="rotate(539.7)"/>
<circle r="372" pathLength="360" stroke-dasharray="3.86 400" transform="rotate(512.7)"/>
<path d="M372 0H494" transform="rotate(512.7)"/><path d="M372 0H384" transform="rotate(516.56)"/>
<circle r="384" pathLength="360" stroke-dasharray="3.93 400" transform="rotate(514.59)"/>
<path d="M384 0H494" transform="rotate(514.59)"/><path d="M384 0H396" transform="rotate(518.52)"/>
<circle r="396" pathLength="360" stroke-dasharray="4.07 400" transform="rotate(516.49)"/>
<path d="M396 0H494" transform="rotate(516.49)"/><path d="M396 0H408" transform="rotate(520.56)"/>
<circle r="408" pathLength="360" stroke-dasharray="4.37 400" transform="rotate(518.38)"/>
<path d="M408 0H494" transform="rotate(518.38)"/><path d="M408 0H420" transform="rotate(522.75)"/>
<circle r="420" pathLength="360" stroke-dasharray="4.96 400" transform="rotate(520.27)"/>
<path d="M420 0H494" transform="rotate(520.27)"/><path d="M420 0H440" transform="rotate(525.23)"/>
<circle r="440" pathLength="360" stroke-dasharray="4.26 400" transform="rotate(523.11)"/>
<path d="M440 0H477" transform="rotate(523.11)"/><path d="M440 0H457" transform="rotate(527.37)"/>
<circle r="477" pathLength="360" stroke-dasharray="1.89 400" transform="rotate(522.16)"/>
<path d="M477 0H494" transform="rotate(522.16)"/><path d="M477 0H494" transform="rotate(524.05)"/>
<circle r="457" pathLength="360" stroke-dasharray="2.83 400" transform="rotate(525.95)"/>
<path d="M457 0H494" transform="rotate(525.95)"/><path d="M457 0H475" transform="rotate(528.78)"/>
<circle r="475" pathLength="360" stroke-dasharray="1.89 400" transform="rotate(527.84)"/>
<path d="M475 0H494" transform="rotate(527.84)"/><path d="M475 0H494" transform="rotate(529.73)"/>
<circle r="378" pathLength="360" stroke-dasharray="11.92 400" transform="rotate(533.74)"/>
<path d="M378 0H395" transform="rotate(533.74)"/><path d="M378 0H392" transform="rotate(545.66)"/>
<circle r="395" pathLength="360" stroke-dasharray="4.25 400" transform="rotate(531.62)"/>
<path d="M395 0H494" transform="rotate(531.62)"/><path d="M395 0H410" transform="rotate(535.87)"/>
<circle r="410" pathLength="360" stroke-dasharray="4.73 400" transform="rotate(533.51)"/>
<path d="M410 0H494" transform="rotate(533.51)"/><path d="M410 0H455" transform="rotate(538.24)"/>
<circle r="455" pathLength="360" stroke-dasharray="3.79 400" transform="rotate(536.35)"/>
<path d="M455 0H475" transform="rotate(536.35)"/><path d="M455 0H475" transform="rotate(540.14)"/>
<circle r="475" pathLength="360" stroke-dasharray="1.89 400" transform="rotate(535.41)"/>
<path d="M475 0H494" transform="rotate(535.41)"/><path d="M475 0H494" transform="rotate(537.3)"/>
<circle r="475" pathLength="360" stroke-dasharray="1.89 400" transform="rotate(539.19)"/>
<path d="M475 0H494" transform="rotate(539.19)"/><path d="M475 0H494" transform="rotate(541.08)"/>
<circle r="392" pathLength="360" stroke-dasharray="5.38 400" transform="rotate(542.97)"/>
<path d="M392 0H494" transform="rotate(542.97)"/><path d="M392 0H400" transform="rotate(548.35)"/>
<circle r="400" pathLength="360" stroke-dasharray="6.98 400" transform="rotate(544.86)"/>
<path d="M400 0H494" transform="rotate(544.86)"/><path d="M400 0H418" transform="rotate(551.84)"/>
<circle r="418" pathLength="360" stroke-dasharray="7.34 400" transform="rotate(548.17)"/>
<path d="M418 0H456" transform="rotate(548.17)"/><path d="M418 0H437" transform="rotate(555.51)"/>
<circle r="456" pathLength="360" stroke-dasharray="2.83 400" transform="rotate(546.76)"/>
<path d="M456 0H494" transform="rotate(546.76)"/><path d="M456 0H475" transform="rotate(549.59)"/>
<circle r="475" pathLength="360" stroke-dasharray="1.89 400" transform="rotate(548.65)"/>
<path d="M475 0H494" transform="rotate(548.65)"/><path d="M475 0H494" transform="rotate(550.54)"/>
<circle r="437" pathLength="360" stroke-dasharray="4.26 400" transform="rotate(553.38)"/>
<path d="M437 0H478" transform="rotate(553.38)"/><path d="M437 0H455" transform="rotate(557.64)"/>
<circle r="478" pathLength="360" stroke-dasharray="1.89 400" transform="rotate(552.43)"/>
<path d="M478 0H494" transform="rotate(552.43)"/><path d="M478 0H494" transform="rotate(554.32)"/>
<circle r="455" pathLength="360" stroke-dasharray="2.84 400" transform="rotate(556.22)"/>
<path d="M455 0H494" transform="rotate(556.22)"/><path d="M455 0H477" transform="rotate(559.06)"/>
<circle r="477" pathLength="360" stroke-dasharray="1.89 400" transform="rotate(558.11)"/>
<path d="M477 0H494" transform="rotate(558.11)"/><path d="M477 0H494" transform="rotate(560)"/>
</g>
<g id="leaders" transform="translate(870 607)" stroke="#c8c8c8" stroke-width="1" stroke-dasharray="3 3">
<path d="M497 0h15" transform="rotate(210)"/><path d="M497 0h15" transform="rotate(211.89)"/><path d="M497 0h15" transform="rotate(213.78)"/><path d="M497 0h15" transform="rotate(215.68)"/><path d="M497 0h15" transform="rotate(217.57)"/><path d="M497 0h15" transform="rotate(219.46)"/><path d="M497 0h15" transform="rotate(221.35)"/><path d="M497 0h15" transform="rotate(223.24)"/><path d="M497 0h15" transform="rotate(225.14)"/><path d="M497 0h15" transform="rotate(227.03)"/>
<path d="M497 0h15" transform="rotate(228.92)"/><path d="M497 0h15" transform="rotate(230.81)"/><path d="M497 0h15" transform="rotate(232.7)"/><path d="M497 0h15" transform="rotate(234.59)"/><path d="M497 0h15" transform="rotate(236.49)"/><path d="M497 0h15" transform="rotate(238.38)"/><path d="M497 0h15" transform="rotate(240.27)"/><path d="M497 0h15" transform="rotate(242.16)"/><path d="M497 0h15" transform="rotate(244.05)"/><path d="M497 0h15" transform="rotate(245.95)"/>
<path d="M497 0h15" transform="rotate(247.84)"/><path d="M497 0h15" transform="rotate(249.73)"/><path d="M497 0h15" transform="rotate(251.62)"/><path d="M497 0h15" transform="rotate(253.51)"/><path d="M497 0h15" transform="rotate(255.41)"/><path d="M497 0h15" transform="rotate(257.3)"/><path d="M497 0h15" transform="rotate(259.19)"/><path d="M497 0h15" transform="rotate(261.08)"/><path d="M497 0h15" transform="rotate(262.97)"/><path d="M497 0h15" transform="rotate(264.86)"/>
<path d="M497 0h15" transform="rotate(266.76)"/><path d="M497 0h15" transform="rotate(268.65)"/><path d="M497 0h15" transform="rotate(270.54)"/><path d="M497 0h15" transform="rotate(272.43)"/><path d="M497 0h15" transform="rotate(274.32)"/><path d="M497 0h15" transform="rotate(276.22)"/><path d="M497 0h15" transform="rotate(278.11)"/><path d="M497 0h15" transform="rotate(280)"/><path d="M497 0h15" transform="rotate(281.89)"/><path d="M497 0h15" transform="rotate(283.78)"/>
<path d="M497 0h15" transform="rotate(285.68)"/><path d="M497 0h15" transform="rotate(287.57)"/><path d="M497 0h15" transform="rotate(289.46)"/><path d="M497 0h15" transform="rotate(291.35)"/><path d="M497 0h15" transform="rotate(293.24)"/><path d="M497 0h15" transform="rotate(295.14)"/><path d="M497 0h15" transform="rotate(297.03)"/><path d="M497 0h15" transform="rotate(298.92)"/><path d="M497 0h15" transform="rotate(300.81)"/><path d="M497 0h15" transform="rotate(302.7)"/>
<path d="M497 0h15" transform="rotate(304.59)"/><path d="M497 0h15" transform="rotate(306.49)"/><path d="M497 0h15" transform="rotate(308.38)"/><path d="M497 0h15" transform="rotate(310.27)"/><path d="M497 0h15" transform="rotate(312.16)"/><path d="M497 0h15" transform="rotate(314.05)"/><path d="M497 0h15" transform="rotate(315.95)"/><path d="M497 0h15" transform="rotate(317.84)"/><path d="M497 0h15" transform="rotate(319.73)"/><path d="M497 0h15" transform="rotate(321.62)"/>
<path d="M497 0h15" transform="rotate(323.51)"/><path d="M497 0h15" transform="rotate(325.41)"/><path d="M497 0h15" transform="rotate(327.3)"/><path d="M497 0h15" transform="rotate(329.19)"/><path d="M497 0h15" transform="rotate(331.08)"/><path d="M497 0h15" transform="rotate(332.97)"/><path d="M497 0h15" transform="rotate(334.86)"/><path d="M497 0h15" transform="rotate(336.76)"/><path d="M497 0h15" transform="rotate(338.65)"/><path d="M497 0h15" transform="rotate(340.54)"/>
<path d="M497 0h15" transform="rotate(342.43)"/><path d="M497 0h15" transform="rotate(344.32)"/><path d="M497 0h15" transform="rotate(346.22)"/><path d="M497 0h15" transform="rotate(348.11)"/><path d="M497 0h15" transform="rotate(350)"/><path d="M497 0h15" transform="rotate(351.89)"/><path d="M497 0h15" transform="rotate(353.78)"/><path d="M497 0h15" transform="rotate(355.68)"/><path d="M497 0h15" transform="rotate(357.57)"/><path d="M497 0h15" transform="rotate(359.46)"/>
<path d="M497 0h15" transform="rotate(361.35)"/><path d="M497 0h15" transform="rotate(363.24)"/><path d="M497 0h15" transform="rotate(365.14)"/><path d="M497 0h15" transform="rotate(367.03)"/><path d="M497 0h15" transform="rotate(368.92)"/><path d="M497 0h15" transform="rotate(370.81)"/><path d="M497 0h15" transform="rotate(372.7)"/><path d="M497 0h15" transform="rotate(374.59)"/><path d="M497 0h15" transform="rotate(376.49)"/><path d="M497 0h15" transform="rotate(378.38)"/>
<path d="M497 0h15" transform="rotate(380.27)"/><path d="M497 0h15" transform="rotate(382.16)"/><path d="M497 0h15" transform="rotate(384.05)"/><path d="M497 0h15" transform="rotate(385.95)"/><path d="M497 0h15" transform="rotate(387.84)"/><path d="M497 0h15" transform="rotate(389.73)"/><path d="M497 0h15" transform="rotate(391.62)"/><path d="M497 0h15" transform="rotate(393.51)"/><path d="M497 0h15" transform="rotate(395.41)"/><path d="M497 0h15" transform="rotate(397.3)"/>
<path d="M497 0h15" transform="rotate(399.19)"/><path d="M497 0h15" transform="rotate(401.08)"/><path d="M497 0h15" transform="rotate(402.97)"/><path d="M497 0h15" transform="rotate(404.86)"/><path d="M497 0h15" transform="rotate(406.76)"/><path d="M497 0h15" transform="rotate(408.65)"/><path d="M497 0h15" transform="rotate(410.54)"/><path d="M497 0h15" transform="rotate(412.43)"/><path d="M497 0h15" transform="rotate(414.32)"/><path d="M497 0h15" transform="rotate(416.22)"/>
<path d="M497 0h15" transform="rotate(418.11)"/><path d="M497 0h15" transform="rotate(420)"/><path d="M497 0h15" transform="rotate(421.89)"/><path d="M497 0h15" transform="rotate(423.78)"/><path d="M497 0h15" transform="rotate(425.68)"/><path d="M497 0h15" transform="rotate(427.57)"/><path d="M497 0h15" transform="rotate(429.46)"/><path d="M497 0h15" transform="rotate(431.35)"/><path d="M497 0h15" transform="rotate(433.24)"/><path d="M497 0h15" transform="rotate(435.14)"/>
<path d="M497 0h15" transform="rotate(437.03)"/><path d="M497 0h15" transform="rotate(438.92)"/><path d="M497 0h15" transform="rotate(440.81)"/><path d="M497 0h15" transform="rotate(442.7)"/><path d="M497 0h15" transform="rotate(444.59)"/><path d="M497 0h15" transform="rotate(446.49)"/><path d="M497 0h15" transform="rotate(448.38)"/><path d="M497 0h15" transform="rotate(450.27)"/><path d="M497 0h15" transform="rotate(452.16)"/><path d="M497 0h15" transform="rotate(454.05)"/>
<path d="M497 0h15" transform="rotate(455.95)"/><path d="M497 0h15" transform="rotate(457.84)"/><path d="M497 0h15" transform="rotate(459.73)"/><path d="M497 0h15" transform="rotate(461.62)"/><path d="M497 0h15" transform="rotate(463.51)"/><path d="M497 0h15" transform="rotate(465.41)"/><path d="M497 0h15" transform="rotate(467.3)"/><path d="M497 0h15" transform="rotate(469.19)"/><path d="M497 0h15" transform="rotate(471.08)"/><path d="M497 0h15" transform="rotate(472.97)"/>
<path d="M497 0h15" transform="rotate(474.86)"/><path d="M497 0h15" transform="rotate(476.76)"/><path d="M497 0h15" transform="rotate(478.65)"/><path d="M497 0h15" transform="rotate(480.54)"/><path d="M497 0h15" transform="rotate(482.43)"/><path d="M497 0h15" transform="rotate(484.32)"/><path d="M497 0h15" transform="rotate(486.22)"/><path d="M497 0h15" transform="rotate(488.11)"/><path d="M497 0h15" transform="rotate(490)"/><path d="M497 0h15" transform="rotate(491.89)"/>
<path d="M497 0h15" transform="rotate(493.78)"/><path d="M497 0h15" transform="rotate(495.68)"/><path d="M497 0h15" transform="rotate(497.57)"/><path d="M497 0h15" transform="rotate(499.46)"/><path d="M497 0h15" transform="rotate(501.35)"/><path d="M497 0h15" transform="rotate(503.24)"/><path d="M497 0h15" transform="rotate(505.14)"/><path d="M497 0h15" transform="rotate(507.03)"/><path d="M497 0h15" transform="rotate(508.92)"/><path d="M497 0h15" transform="rotate(510.81)"/>
<path d="M497 0h15" transform="rotate(512.7)"/><path d="M497 0h15" transform="rotate(514.59)"/><path d="M497 0h15" transform="rotate(516.49)"/><path d="M497 0h15" transform="rotate(518.38)"/><path d="M497 0h15" transform="rotate(520.27)"/><path d="M497 0h15" transform="rotate(522.16)"/><path d="M497 0h15" transform="rotate(524.05)"/><path d="M497 0h15" transform="rotate(525.95)"/><path d="M497 0h15" transform="rotate(527.84)"/><path d="M497 0h15" transform="rotate(529.73)"/>
<path d="M497 0h15" transform="rotate(531.62)"/><path d="M497 0h15" transform="rotate(533.51)"/><path d="M497 0h15" transform="rotate(535.41)"/><path d="M497 0h15" transform="rotate(537.3)"/><path d="M497 0h15" transform="rotate(539.19)"/><path d="M497 0h15" transform="rotate(541.08)"/><path d="M497 0h15" transform="rotate(542.97)"/><path d="M497 0h15" transform="rotate(544.86)"/><path d="M497 0h15" transform="rotate(546.76)"/><path d="M497 0h15" transform="rotate(548.65)"/>
<path d="M497 0h15" transform="rotate(550.54)"/><path d="M497 0h15" transform="rotate(552.43)"/><path d="M497 0h15" transform="rotate(554.32)"/><path d="M497 0h15" transform="rotate(556.22)"/><path d="M497 0h15" transform="rotate(558.11)"/><path d="M497 0h15" transform="rotate(560)"/>
</g>
<g class="t" transform="translate(870 607)">
<g id="tip1"><text class="a1 L" x="-516" transform="rotate(30)">ASV 458</text></g>
<g id="tip2"><text class="a2 L" x="-516" transform="rotate(31.89)">ASV 282</text></g>
<g id="tip3"><text class="a5 L" x="-516" transform="rotate(33.78)">ASV 337</text></g>
<g id="tip4"><text class="a6 L" x="-516" transform="rotate(35.68)">ASV 234</text></g>
<g id="tip5"><text class="a1 L" x="-516" transform="rotate(37.57)">ASV 446</text></g>
<g id="tip6"><text class="a2 L" x="-516" transform="rotate(39.46)">ASV 275</text></g>
<g id="tip7"><text class="a9 L" x="-516" transform="rotate(41.35)">ASV 542</text></g>
<g id="tip8"><text class="a4 L" x="-516" transform="rotate(43.24)">ASV 403</text></g>
<g id="tip9"><text class="a3 L" x="-516" transform="rotate(45.14)">ASV 253</text></g>
<g id="tip10"><text class="a6 L" x="-516" transform="rotate(47.03)">ASV 686</text></g>
<g id="tip11"><text class="a6 L" x="-516" transform="rotate(48.92)">ASV 723</text></g>
<g id="tip12"><text class="a6 L" x="-516" transform="rotate(50.81)">ASV 921</text></g>
<g id="tip13"><text class="a6 L" x="-516" transform="rotate(52.7)">ASV 565</text></g>
<g id="tip14"><text class="a6 L" x="-516" transform="rotate(54.59)">ASV 220</text></g>
<g id="tip15"><text class="a6 L" x="-516" transform="rotate(56.49)">ASV 162</text></g>
<g id="tip16"><text class="a6 L" x="-516" transform="rotate(58.38)">ASV 284</text></g>
<g id="tip17"><text class="a6 L" x="-516" transform="rotate(60.27)">ASV 236</text></g>
<g id="tip18"><text class="a6 L" x="-516" transform="rotate(62.16)">ASV 95</text></g>
<g id="tip19"><text class="a6 L" x="-516" transform="rotate(64.05)">ASV 121</text></g>
<g id="tip20"><text class="a6 L" x="-516" transform="rotate(65.95)">ASV 222</text></g>
<g id="tip21"><text class="a6 L" x="-516" transform="rotate(67.84)">ASV 175</text></g>
<g id="tip22"><text class="a6 L" x="-516" transform="rotate(69.73)">ASV 227</text></g>
<g id="tip23"><text class="a6 L" x="-516" transform="rotate(71.62)">ASV 232</text></g>
<g id="tip24"><text class="a2 L" x="-516" transform="rotate(73.51)">ASV 357</text></g>
<g id="tip25"><text class="a2 L" x="-516" transform="rotate(75.41)">ASV 301</text></g>
<g id="tip26"><text class="a8 L" x="-516" transform="rotate(77.3)">ASV 142</text></g>
<g id="tip27"><text class="a8 L" x="-516" transform="rotate(79.19)">ASV 135</text></g>
<g id="tip28"><text class="a8 L" x="-516" transform="rotate(81.08)">ASV 106</text></g>
<g id="tip29"><text class="a8 L" x="-516" transform="rotate(82.97)">ASV 182</text></g>
<g id="tip30"><text class="a8 L" x="-516" transform="rotate(84.86)">ASV 151</text></g>
<g id="tip31"><text class="a8 L" x="-516" transform="rotate(86.76)">ASV 131</text></g>
<g id="tip32"><text class="a8 L" x="-516" transform="rotate(88.65)">ASV 89</text></g>
<g id="tip33"><text class="a8" x="516" transform="rotate(270.54)">ASV 84</text></g>
<g id="tip34"><text class="a8" x="516" transform="rotate(272.43)">ASV 77</text></g>
<g id="tip35"><text class="a8" x="516" transform="rotate(274.32)">ASV 113</text></g>
<g id="tip36"><text class="a8" x="516" transform="rotate(276.22)">ASV 126</text></g>
<g id="tip37"><text class="c4" x="516" transform="rotate(278.11)">ASV 167</text></g>
<g id="tip38"><text class="c1" x="516" transform="rotate(280)">ASV 421</text></g>
<g id="tip39"><text class="c1" x="516" transform="rotate(281.89)">ASV 739</text></g>
<g id="tip40"><text class="c5" x="516" transform="rotate(283.78)">ASV 56</text></g>
<g id="tip41"><text class="c5" x="516" transform="rotate(285.68)">ASV 85</text></g>
<g id="tip42"><text class="c5" x="516" transform="rotate(287.57)">ASV 66</text></g>
<g id="tip43"><text class="c5" x="516" transform="rotate(289.46)">ASV 70</text></g>
<g id="tip44"><text class="c5" x="516" transform="rotate(291.35)">ASV 100</text></g>
<g id="tip45"><text class="c2" x="516" transform="rotate(293.24)">ASV 109</text></g>
<g id="tip46"><text class="c2" x="516" transform="rotate(295.14)">ASV 427</text></g>
<g id="tip47"><text class="c2" x="516" transform="rotate(297.03)">ASV 258</text></g>
<g id="tip48"><text class="c2" x="516" transform="rotate(298.92)">ASV 94</text></g>
<g id="tip49"><text class="c2" x="516" transform="rotate(300.81)">ASV 101</text></g>
<g id="tip50"><text class="c2" x="516" transform="rotate(302.7)">ASV 139</text></g>
<g id="tip51"><text class="g6" x="516" transform="rotate(304.59)">ASV 823</text></g>
<g id="tip52"><text class="g6" x="516" transform="rotate(306.49)">ASV 692</text></g>
<g id="tip53"><text class="g1" x="516" transform="rotate(308.38)">ASV 327</text></g>
<g id="tip54"><text class="g1" x="516" transform="rotate(310.27)">ASV 217</text></g>
<g id="tip55"><text class="g1" x="516" transform="rotate(312.16)">ASV 272</text></g>
<g id="tip56"><text class="g1" x="516" transform="rotate(314.05)">ASV 509</text></g>
<g id="tip57"><text class="g3" x="516" transform="rotate(315.95)">ASV 838</text></g>
<g id="tip58"><text class="g3" x="516" transform="rotate(317.84)">ASV 598</text></g>
<g id="tip59"><text class="g4" x="516" transform="rotate(319.73)">ASV 1089</text></g>
<g id="tip60"><text class="g7" x="516" transform="rotate(321.62)">ASV 75</text></g>
<g id="tip61"><text class="g7" x="516" transform="rotate(323.51)">ASV 93</text></g>
<g id="tip62"><text class="g7" x="516" transform="rotate(325.41)">ASV 30</text></g>
<g id="tip63"><text class="g7" x="516" transform="rotate(327.3)">ASV 119</text></g>
<g id="tip64"><text class="g7" x="516" transform="rotate(329.19)">ASV 292</text></g>
<g id="tip65"><text class="g7" x="516" transform="rotate(331.08)">ASV 241</text></g>
<g id="tip66"><text class="a3" x="516" transform="rotate(332.97)">ASV 285</text></g>
<g id="tip67"><text class="a4" x="516" transform="rotate(334.86)">ASV 265</text></g>
<g id="tip68"><text class="a7" x="516" transform="rotate(336.76)">ASV 461</text></g>
<g id="tip69"><text class="a4" x="516" transform="rotate(338.65)">ASV 181</text></g>
<g id="tip70"><text class="a4" x="516" transform="rotate(340.54)">ASV 144</text></g>
<g id="tip71"><text class="a5" x="516" transform="rotate(342.43)">ASV 534</text></g>
<g id="tip72"><text class="a5" x="516" transform="rotate(344.32)">ASV 372</text></g>
<g id="tip73"><text class="a6" x="516" transform="rotate(346.22)">ASV 396</text></g>
<g id="tip74"><text class="a6" x="516" transform="rotate(348.11)">ASV 132</text></g>
<g id="tip75"><text class="a6" x="516" transform="rotate(350)">ASV 117</text></g>
<g id="tip76"><text class="b5" x="516" transform="rotate(351.89)">ASV 820</text></g>
<g id="tip77"><text class="b5" x="516" transform="rotate(353.78)">ASV 290</text></g>
<g id="tip78"><text class="b5" x="516" transform="rotate(355.68)">ASV 238</text></g>
<g id="tip79"><text class="b5" x="516" transform="rotate(357.57)">ASV 501</text></g>
<g id="tip80"><text class="b5" x="516" transform="rotate(359.46)">ASV 375</text></g>
<g id="tip81"><text class="b5" x="516" transform="rotate(361.35)">ASV 155</text></g>
<g id="tip82"><text class="b5" x="516" transform="rotate(363.24)">ASV 118</text></g>
<g id="tip83"><text class="b3" x="516" transform="rotate(365.14)">ASV 140</text></g>
<g id="tip84"><text class="b3" x="516" transform="rotate(367.03)">ASV 191</text></g>
<g id="tip85"><text class="b3" x="516" transform="rotate(368.92)">ASV 202</text></g>
<g id="tip86"><text class="b3" x="516" transform="rotate(370.81)">ASV 157</text></g>
<g id="tip87"><text class="b3" x="516" transform="rotate(372.7)">ASV 198</text></g>
<g id="tip88"><text class="b3" x="516" transform="rotate(374.59)">ASV 990</text></g>
<g id="tip89"><text class="b3" x="516" transform="rotate(376.49)">ASV 868</text></g>
<g id="tip90"><text class="b6" x="516" transform="rotate(378.38)">ASV 163</text></g>
<g id="tip91"><text class="b1" x="516" transform="rotate(380.27)">ASV 602</text></g>
<g id="tip92"><text class="b1" x="516" transform="rotate(382.16)">ASV 61</text></g>
<g id="tip93"><text class="b1" x="516" transform="rotate(384.05)">ASV 45</text></g>
<g id="tip94"><text class="b4" x="516" transform="rotate(385.95)">ASV 473</text></g>
<g id="tip95"><text class="b4" x="516" transform="rotate(387.84)">ASV 247</text></g>
<g id="tip96"><text class="b4" x="516" transform="rotate(389.73)">ASV 437</text></g>
<g id="tip97"><text class="b4" x="516" transform="rotate(391.62)">ASV 224</text></g>
<g id="tip98"><text class="b3" x="516" transform="rotate(393.51)">ASV 346</text></g>
<g id="tip99"><text class="b2" x="516" transform="rotate(395.41)">ASV 605</text></g>
<g id="tip100"><text class="b3" x="516" transform="rotate(397.3)">ASV 120</text></g>
<g id="tip101"><text class="b3" x="516" transform="rotate(399.19)">ASV 179</text></g>
<g id="tip102"><text class="b3" x="516" transform="rotate(401.08)">ASV 143</text></g>
<g id="tip103"><text class="b3" x="516" transform="rotate(402.97)">ASV 133</text></g>
<g id="tip104"><text class="b3" x="516" transform="rotate(404.86)">ASV 347</text></g>
<g id="tip105"><text class="b3" x="516" transform="rotate(406.76)">ASV 193</text></g>
<g id="tip106"><text class="b3" x="516" transform="rotate(408.65)">ASV 279</text></g>
<g id="tip107"><text class="b3" x="516" transform="rotate(410.54)">ASV 177</text></g>
<g id="tip108"><text class="b3" x="516" transform="rotate(412.43)">ASV 210</text></g>
<g id="tip109"><text class="b3" x="516" transform="rotate(414.32)">ASV 204</text></g>
<g id="tip110"><text class="b3" x="516" transform="rotate(416.22)">ASV 306</text></g>
<g id="tip111"><text class="b3" x="516" transform="rotate(418.11)">ASV 235</text></g>
<g id="tip112"><text class="b3" x="516" transform="rotate(420)">ASV 195</text></g>
<g id="tip113"><text class="b3" x="516" transform="rotate(421.89)">ASV 161</text></g>
<g id="tip114"><text class="b2" x="516" transform="rotate(423.78)">ASV 207</text></g>
<g id="tip115"><text class="b2" x="516" transform="rotate(425.68)">ASV 149</text></g>
<g id="tip116"><text class="b2" x="516" transform="rotate(427.57)">ASV 407</text></g>
<g id="tip117"><text class="b2" x="516" transform="rotate(429.46)">ASV 244</text></g>
<g id="tip118"><text class="b1" x="516" transform="rotate(431.35)">ASV 83</text></g>
<g id="tip119"><text class="b1" x="516" transform="rotate(433.24)">ASV 52</text></g>
<g id="tip120"><text class="b1" x="516" transform="rotate(435.14)">ASV 69</text></g>
<g id="tip121"><text class="b1" x="516" transform="rotate(437.03)">ASV 96</text></g>
<g id="tip122"><text class="b1" x="516" transform="rotate(438.92)">ASV 64</text></g>
<g id="tip123"><text class="b1" x="516" transform="rotate(440.81)">ASV 97</text></g>
<g id="tip124"><text class="b5" x="516" transform="rotate(442.7)">ASV 552</text></g>
<g id="tip125"><text class="b5" x="516" transform="rotate(444.59)">ASV 449</text></g>
<g id="tip126"><text class="b5" x="516" transform="rotate(446.49)">ASV 601</text></g>
<g id="tip127"><text class="b5" x="516" transform="rotate(448.38)">ASV 243</text></g>
<g id="tip128"><text class="b5 L" x="-516" transform="rotate(270.27)">ASV 371</text></g>
<g id="tip129"><text class="b5 L" x="-516" transform="rotate(272.16)">ASV 450</text></g>
<g id="tip130"><text class="b5 L" x="-516" transform="rotate(274.05)">ASV 213</text></g>
<g id="tip131"><text class="b5 L" x="-516" transform="rotate(275.95)">ASV 219</text></g>
<g id="tip132"><text class="b5 L" x="-516" transform="rotate(277.84)">ASV 311</text></g>
<g id="tip133"><text class="b5 L" x="-516" transform="rotate(279.73)">ASV 187</text></g>
<g id="tip134"><text class="b5 L" x="-516" transform="rotate(281.62)">ASV 259</text></g>
<g id="tip135"><text class="b5 L" x="-516" transform="rotate(283.51)">ASV 700</text></g>
<g id="tip136"><text class="v L" x="-516" transform="rotate(285.41)">ASV 7685</text></g>
<g id="tip137"><text class="g8 L" x="-516" transform="rotate(287.3)">ASV 499</text></g>
<g id="tip138"><text class="g8 L" x="-516" transform="rotate(289.19)">ASV 303</text></g>
<g id="tip139"><text class="g8 L" x="-516" transform="rotate(291.08)">ASV 343</text></g>
<g id="tip140"><text class="g8 L" x="-516" transform="rotate(292.97)">ASV 242</text></g>
<g id="tip141"><text class="g8 L" x="-516" transform="rotate(294.86)">ASV 190</text></g>
<g id="tip142"><text class="g8 L" x="-516" transform="rotate(296.76)">ASV 158</text></g>
<g id="tip143"><text class="g7 L" x="-516" transform="rotate(298.65)">ASV 277</text></g>
<g id="tip144"><text class="g7 L" x="-516" transform="rotate(300.54)">ASV 250</text></g>
<g id="tip145"><text class="g7 L" x="-516" transform="rotate(302.43)">ASV 392</text></g>
<g id="tip146"><text class="g7 L" x="-516" transform="rotate(304.32)">ASV 80</text></g>
<g id="tip147"><text class="g7 L" x="-516" transform="rotate(306.22)">ASV 99</text></g>
<g id="tip148"><text class="g7 L" x="-516" transform="rotate(308.11)">ASV 114</text></g>
<g id="tip149"><text class="g7 L" x="-516" transform="rotate(310)">ASV 76</text></g>
<g id="tip150"><text class="g7 L" x="-516" transform="rotate(311.89)">ASV 46</text></g>
<g id="tip151"><text class="g7 L" x="-516" transform="rotate(313.78)">ASV 108</text></g>
<g id="tip152"><text class="g7 L" x="-516" transform="rotate(315.68)">ASV 116</text></g>
<g id="tip153"><text class="g7 L" x="-516" transform="rotate(317.57)">ASV 180</text></g>
<g id="tip154"><text class="g7 L" x="-516" transform="rotate(319.46)">ASV 115</text></g>
<g id="tip155"><text class="g7 L" x="-516" transform="rotate(321.35)">ASV 171</text></g>
<g id="tip156"><text class="g7 L" x="-516" transform="rotate(323.24)">ASV 189</text></g>
<g id="tip157"><text class="g3 L" x="-516" transform="rotate(325.14)">ASV 749</text></g>
<g id="tip158"><text class="g4 L" x="-516" transform="rotate(327.03)">ASV 1186</text></g>
<g id="tip159"><text class="g4 L" x="-516" transform="rotate(328.92)">ASV 745</text></g>
<g id="tip160"><text class="g5 L" x="-516" transform="rotate(330.81)">ASV 767</text></g>
<g id="tip161"><text class="g6 L" x="-516" transform="rotate(332.7)">ASV 520</text></g>
<g id="tip162"><text class="g6 L" x="-516" transform="rotate(334.59)">ASV 340</text></g>
<g id="tip163"><text class="g6 L" x="-516" transform="rotate(336.49)">ASV 422</text></g>
<g id="tip164"><text class="g6 L" x="-516" transform="rotate(338.38)">ASV 400</text></g>
<g id="tip165"><text class="g6 L" x="-516" transform="rotate(340.27)">ASV 506</text></g>
<g id="tip166"><text class="g6 L" x="-516" transform="rotate(342.16)">ASV 388</text></g>
<g id="tip167"><text class="g6 L" x="-516" transform="rotate(344.05)">ASV 612</text></g>
<g id="tip168"><text class="g2 L" x="-516" transform="rotate(345.95)">ASV 125</text></g>
<g id="tip169"><text class="g2 L" x="-516" transform="rotate(347.84)">ASV 81</text></g>
<g id="tip170"><text class="g2 L" x="-516" transform="rotate(349.73)">ASV 74</text></g>
<g id="tip171"><text class="g2 L" x="-516" transform="rotate(351.62)">ASV 36</text></g>
<g id="tip172"><text class="g2 L" x="-516" transform="rotate(353.51)">ASV 55</text></g>
<g id="tip173"><text class="g2 L" x="-516" transform="rotate(355.41)">ASV 38</text></g>
<g id="tip174"><text class="g2 L" x="-516" transform="rotate(357.3)">ASV 58</text></g>
<g id="tip175"><text class="g2 L" x="-516" transform="rotate(359.19)">ASV 40</text></g>
<g id="tip176"><text class="g2 L" x="-516" transform="rotate(361.08)">ASV 63</text></g>
<g id="tip177"><text class="g3 L" x="-516" transform="rotate(362.97)">ASV 15</text></g>
<g id="tip178"><text class="g3 L" x="-516" transform="rotate(364.86)">ASV 28</text></g>
<g id="tip179"><text class="g3 L" x="-516" transform="rotate(366.76)">ASV 169</text></g>
<g id="tip180"><text class="g3 L" x="-516" transform="rotate(368.65)">ASV 128</text></g>
<g id="tip181"><text class="g3 L" x="-516" transform="rotate(370.54)">ASV 111</text></g>
<g id="tip182"><text class="g3 L" x="-516" transform="rotate(372.43)">ASV 19</text></g>
<g id="tip183"><text class="g3 L" x="-516" transform="rotate(374.32)">ASV 32</text></g>
<g id="tip184"><text class="g3 L" x="-516" transform="rotate(376.22)">ASV 20</text></g>
<g id="tip185"><text class="g3 L" x="-516" transform="rotate(378.11)">ASV 184</text></g>
<g id="tip186"><text class="g3 L" x="-516" transform="rotate(380)">ASV 31</text></g>
</g>
</svg>
